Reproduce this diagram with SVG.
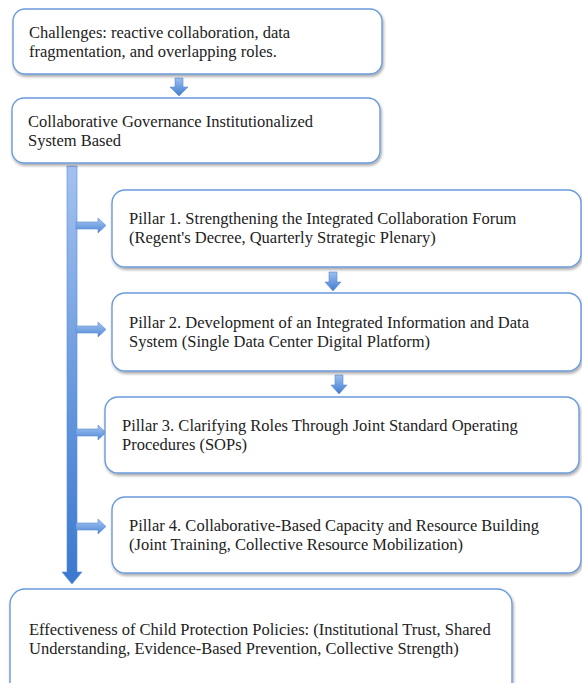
<svg xmlns="http://www.w3.org/2000/svg" width="582" height="683" viewBox="0 0 582 683">
  <style>
    .box { fill: #ffffff; stroke: #6b9bdc; stroke-width: 1.4; filter: url(#shadow); }
    .t { font-family: 'Liberation Serif', 'Times New Roman', serif; font-size: 16.5px; fill: #222222; }
    .arr { fill: url(#gDown); stroke: #5a8bd3; stroke-width: 0.6; }
    .arrR { fill: url(#gRight); stroke: #5a8bd3; stroke-width: 0.6; }
  </style>
  <defs>
    <filter id="shadow" x="-5%" y="-10%" width="112%" height="130%">
      <feGaussianBlur in="SourceAlpha" stdDeviation="1.6"/>
      <feOffset dx="1" dy="2" result="b"/>
      <feComponentTransfer><feFuncA type="linear" slope="0.35"/></feComponentTransfer>
      <feMerge><feMergeNode/><feMergeNode in="SourceGraphic"/></feMerge>
    </filter>
    <linearGradient id="gDown" x1="0" y1="0" x2="0" y2="1">
      <stop offset="0" stop-color="#9dbff0"/>
      <stop offset="1" stop-color="#3f7dd0"/>
    </linearGradient>
    <linearGradient id="gRight" x1="0" y1="0" x2="0" y2="1">
      <stop offset="0" stop-color="#a6c5f2"/>
      <stop offset="1" stop-color="#4f88d6"/>
    </linearGradient>
    <linearGradient id="gBar" x1="0" y1="0" x2="0" y2="1">
      <stop offset="0" stop-color="#a3c2f0"/>
      <stop offset="0.5" stop-color="#6c9be0"/>
      <stop offset="1" stop-color="#3a78cf"/>
    </linearGradient>
  </defs>

  <!-- connectors -->
  <g id="connectors">
    <!-- challenges -> governance -->
    <path class="arr" d="M175 78 h8 v9 h5 l-9 9 l-9 -9 h5 z"/>
    <!-- main spine down to outcomes -->
    <path d="M67 166 h10 v406 h5 l-10 12 l-10 -12 h5 z" fill="url(#gBar)" stroke="#5a8bd3" stroke-width="0.6"/>
    <!-- spine -> pillars -->
    <path class="arrR" d="M76 222 h22 v-4 l8 7.5 l-8 7.5 v-4 h-22 z"/>
    <path class="arrR" d="M76 326 h22 v-4 l8 7.5 l-8 7.5 v-4 h-22 z"/>
    <path class="arrR" d="M76 429 h22 v-4 l8 7.5 l-8 7.5 v-4 h-22 z"/>
    <path class="arrR" d="M76 523 h22 v-4 l8 7.5 l-8 7.5 v-4 h-22 z"/>
    <!-- pillar 1 -> pillar 2 -->
    <path class="arr" d="M329 272 h8 v10 h4 l-8 9 l-8 -9 h4 z"/>
    <!-- pillar 2 -> pillar 3 -->
    <path class="arr" d="M335 375 h8 v10 h4 l-8 9 l-8 -9 h4 z"/>
  </g>

  <g id="challenges">
    <rect class="box" x="13" y="9" width="369" height="65" rx="12"/>
    <text class="t" x="29" y="38">Challenges: reactive collaboration, data</text>
    <text class="t" x="29" y="57">fragmentation, and overlapping roles.</text>
  </g>

  <g id="governance">
    <rect class="box" x="12" y="98" width="368" height="65" rx="12"/>
    <text class="t" x="28" y="127">Collaborative Governance Institutionalized</text>
    <text class="t" x="28" y="146">System Based</text>
  </g>

  <g id="pillar1">
    <rect class="box" x="112" y="190" width="469" height="77" rx="13"/>
    <text class="t" x="129" y="224">Pillar 1. Strengthening the Integrated Collaboration Forum</text>
    <text class="t" x="129" y="243">(Regent's Decree, Quarterly Strategic Plenary)</text>
  </g>

  <g id="pillar2">
    <rect class="box" x="112" y="293" width="469" height="78" rx="13"/>
    <text class="t" x="129" y="328">Pillar 2. Development of an Integrated Information and Data</text>
    <text class="t" x="129" y="347">System (Single Data Center Digital Platform)</text>
  </g>

  <g id="pillar3">
    <rect class="box" x="105" y="397" width="474" height="76" rx="13"/>
    <text class="t" x="122" y="431">Pillar 3. Clarifying Roles Through Joint Standard Operating</text>
    <text class="t" x="122" y="450">Procedures (SOPs)</text>
  </g>

  <g id="pillar4">
    <rect class="box" x="112" y="497" width="469" height="76" rx="13"/>
    <text class="t" x="129" y="531">Pillar 4. Collaborative-Based Capacity and Resource Building</text>
    <text class="t" x="129" y="550">(Joint Training, Collective Resource Mobilization)</text>
  </g>

  <g id="outcome">
    <rect class="box" x="10" y="589" width="502" height="110" rx="15"/>
    <text class="t" x="29" y="635">Effectiveness of Child Protection Policies: (Institutional Trust, Shared</text>
    <text class="t" x="29" y="654">Understanding, Evidence-Based Prevention, Collective Strength)</text>
  </g>
</svg>
